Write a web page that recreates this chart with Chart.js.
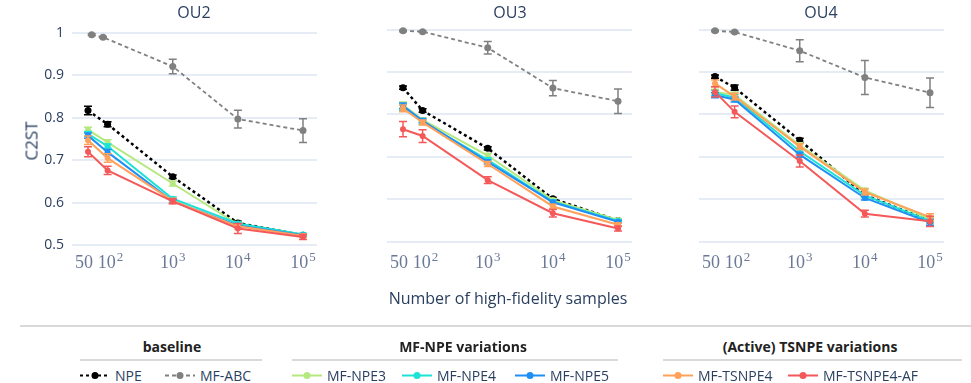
<!DOCTYPE html>
<html>
<head>
<meta charset="utf-8">
<script src="https://cdn.jsdelivr.net/npm/chart.js@4.4.1/dist/chart.umd.min.js"></script>
<style>
  body { margin: 0; background: #fff; font-family: "Open Sans", sans-serif; color: #2a3f5f; }
  #wrap { position: relative; width: 971px; height: 383px; overflow: hidden; }
  canvas.panel { position: absolute; top: 0; }
  .lbl { position: absolute; white-space: nowrap; transform: translate(-50%, -50%); }
  .rule { position: absolute; height: 2px; background: #d9d9d9; }
  .grp { position: absolute; font-weight: 700; font-size: 14px; color: #222; transform: translate(-50%, -50%); white-space: nowrap; }
  .item { position: absolute; display: flex; align-items: center; font-size: 14px; color: #2a3f5f; transform: translateY(-50%); white-space: nowrap; }
  .item svg { margin-right: 5px; }
</style>
</head>
<body>
<div id="wrap">
  <canvas id="c0" class="panel" width="325" height="290" style="left:0px"></canvas>
  <canvas id="c1" class="panel" width="325" height="290" style="left:315px"></canvas>
  <canvas id="c2" class="panel" width="325" height="290" style="left:627px"></canvas>
  <div class="lbl" style="left:194px;top:12px;font-size:16px">OU2</div>
  <div class="lbl" style="left:510px;top:12px;font-size:16px">OU3</div>
  <div class="lbl" style="left:821px;top:12px;font-size:16px">OU4</div>
  <div class="lbl" style="left:31px;top:141px;font-size:17px;transform:translate(-50%,-50%) rotate(-90deg)">C2ST</div>
  <div class="lbl" style="left:508px;top:298px;font-size:16px">Number of high-fidelity samples</div>
  <div class="rule" style="left:20px;width:951px;top:325px"></div>
  <div id="legend"></div>
</div>
<script>
// x positions (number of high-fidelity samples)
const samples = [50, 100, 1000, 10000, 100000];
const abcSamplesOU2 = [57, 85, 1000, 10000, 100000];
const xTicks = [50, 100, 1000, 10000, 100000];
const xTickBase = ['50', '10', '10', '10', '10'];
const xTickSup = ['', '2', '3', '4', '5'];
const yTicks = [0.5, 0.6, 0.7, 0.8, 0.9, 1];

const methods = ['NPE', 'MF-ABC', 'MF-NPE3', 'MF-NPE4', 'MF-NPE5', 'MF-TSNPE4', 'MF-TSNPE4-AF'];
const colors = ['#000000', '#808080', '#b6e880', '#1de2d6', '#1e8ff5', '#ffa15a', '#f4595a'];
const dashes = [[3, 3], [4, 3], [], [], [], [], []];

// mean C2ST, one row per method (same order as methods)
const ou2Mean = [
  [0.817, 0.785, 0.661, 0.552, 0.523],
  [0.996, 0.990, 0.921, 0.797, 0.770],
  [0.772, 0.742, 0.645, 0.549, 0.524],
  [0.762, 0.733, 0.609, 0.551, 0.525],
  [0.758, 0.719, 0.603, 0.546, 0.523],
  [0.747, 0.705, 0.604, 0.544, 0.522],
  [0.720, 0.676, 0.603, 0.539, 0.519]
];
const ou2Err = [
  [0.010, 0.006, 0.004, 0.004, 0.003],
  [0.002, 0.002, 0.017, 0.021, 0.028],
  [0.006, 0.006, 0.006, 0.004, 0.003],
  [0.006, 0.005, 0.004, 0.004, 0.003],
  [0.006, 0.006, 0.004, 0.004, 0.003],
  [0.010, 0.010, 0.006, 0.006, 0.004],
  [0.012, 0.010, 0.006, 0.012, 0.006]
];
const ou3Mean = [
  [0.863, 0.809, 0.720, 0.601, 0.550],
  [0.997, 0.995, 0.957, 0.862, 0.831],
  [0.822, 0.787, 0.703, 0.598, 0.551],
  [0.816, 0.782, 0.693, 0.594, 0.549],
  [0.820, 0.785, 0.688, 0.593, 0.547],
  [0.814, 0.781, 0.683, 0.583, 0.540],
  [0.765, 0.749, 0.645, 0.567, 0.531]
];
const ou3Err = [
  [0.004, 0.004, 0.004, 0.003, 0.003],
  [0.002, 0.002, 0.015, 0.018, 0.029],
  [0.007, 0.005, 0.005, 0.004, 0.003],
  [0.007, 0.005, 0.005, 0.004, 0.003],
  [0.007, 0.005, 0.005, 0.004, 0.003],
  [0.008, 0.006, 0.006, 0.005, 0.004],
  [0.018, 0.015, 0.008, 0.009, 0.006]
];
const ou4Mean = [
  [0.889, 0.863, 0.739, 0.610, 0.549],
  [0.997, 0.994, 0.950, 0.887, 0.851],
  [0.853, 0.846, 0.727, 0.621, 0.553],
  [0.850, 0.840, 0.713, 0.609, 0.549],
  [0.845, 0.835, 0.705, 0.603, 0.545],
  [0.873, 0.842, 0.724, 0.617, 0.558],
  [0.853, 0.806, 0.690, 0.566, 0.548]
];
const ou4Err = [
  [0.004, 0.006, 0.005, 0.004, 0.004],
  [0.002, 0.002, 0.026, 0.040, 0.035],
  [0.006, 0.006, 0.006, 0.005, 0.004],
  [0.006, 0.006, 0.006, 0.005, 0.004],
  [0.006, 0.006, 0.006, 0.005, 0.006],
  [0.008, 0.008, 0.007, 0.007, 0.008],
  [0.012, 0.014, 0.014, 0.008, 0.012]
];

// draws vertical error bars with caps through the y scale
const errorBars = {
  id: 'errorBars',
  afterDatasetDraw(chart, args) {
    const ds = chart.data.datasets[args.index];
    const yScale = chart.scales.y;
    const ctx = chart.ctx;
    ctx.save();
    ctx.strokeStyle = ds.borderColor;
    ctx.lineWidth = 1.5;
    ctx.setLineDash([]);
    args.meta.data.forEach((pt, j) => {
      const v = ds.data[j].y, e = ds.errors[j];
      const top = yScale.getPixelForValue(v + e);
      const bot = yScale.getPixelForValue(v - e);
      ctx.beginPath();
      ctx.moveTo(pt.x, top); ctx.lineTo(pt.x, bot);
      ctx.moveTo(pt.x - 4, top); ctx.lineTo(pt.x + 4, top);
      ctx.moveTo(pt.x - 4, bot); ctx.lineTo(pt.x + 4, bot);
      ctx.stroke();
    });
    ctx.restore();
  }
};

// x tick labels with raised exponents, placed by the log scale
const xLabelShift = [-4, 3, 0, 0, 0];
const expLabels = {
  id: 'expLabels',
  afterDraw(chart) {
    const sx = chart.scales.x, ctx = chart.ctx;
    const y = chart.chartArea.bottom + 18;
    ctx.save();
    ctx.fillStyle = '#6b7896';
    ctx.textBaseline = 'alphabetic';
    ctx.textAlign = 'left';
    xTicks.forEach((v, i) => {
      ctx.font = '18px "Liberation Serif"';
      const wb = ctx.measureText(xTickBase[i]).width;
      ctx.font = '13px "Liberation Serif"';
      const ws = xTickSup[i] ? ctx.measureText(xTickSup[i]).width + 1 : 0;
      const x0 = sx.getPixelForValue(v) + xLabelShift[i] - (wb + ws) / 2;
      ctx.font = '18px "Liberation Serif"';
      ctx.fillText(xTickBase[i], x0, y);
      if (xTickSup[i]) {
        ctx.font = '13px "Liberation Serif"';
        ctx.fillText(xTickSup[i], x0 + wb + 1, y - 7);
      }
    });
    ctx.restore();
  }
};

function makePanel(id, mean, err, abcX, yMin, yMax, showY) {
  const datasets = methods.map((name, i) => ({
    label: name,
    data: (i === 1 ? abcX : samples).map((x, j) => ({ x: x, y: mean[i][j] })),
    errors: err[i],
    order: methods.length - i, // later methods drawn on top
    borderColor: colors[i],
    backgroundColor: colors[i],
    borderWidth: i === 0 ? 2.5 : (i === 1 ? 1.8 : 2),
    borderDash: dashes[i],
    pointRadius: i < 2 ? 3.5 : 3,
    pointBorderWidth: 0,
    tension: 0
  }));
  return new Chart(document.getElementById(id), {
    type: 'line',
    data: { datasets: datasets },
    options: {
      responsive: false,
      animation: false,
      devicePixelRatio: 1,
      layout: { padding: { top: 22, right: 8, left: 0, bottom: 0 } },
      plugins: { legend: { display: false }, tooltip: { enabled: false } },
      scales: {
        x: {
          type: 'logarithmic', min: 28.4, max: 164000,
          grid: { display: false, drawTicks: false },
          border: { display: false },
          afterBuildTicks: s => { s.ticks = xTicks.map(v => ({ value: v })); },
          afterFit: s => { s.height = 40; },
          ticks: { display: false }
        },
        y: {
          min: yMin, max: yMax,
          afterBuildTicks: s => { s.ticks = yTicks.map(v => ({ value: v })); },
          afterFit: s => { s.width = 72; },
          grid: { color: '#e6ecf5', lineWidth: 2, drawTicks: false },
          border: { display: false },
          ticks: {
            display: showY, padding: 8,
            color: '#2a3f5f',
            font: { family: 'Open Sans', size: 14 },
            callback: v => v === 1 ? '1' : v.toFixed(1)
          }
        }
      }
    },
    plugins: [errorBars, expLabels]
  });
}

makePanel('c0', ou2Mean, ou2Err, abcSamplesOU2, 0.4882, 1.026, true);
makePanel('c1', ou3Mean, ou3Err, samples, 0.4804, 1.0177, false);
makePanel('c2', ou4Mean, ou4Err, samples, 0.4804, 1.0177, false);

// grouped legend
const groups = [
  { title: 'baseline', cx: 172, left: 80, right: 262 },
  { title: 'MF-NPE variations', cx: 463, left: 292, right: 618 },
  { title: '(Active) TSNPE variations', cx: 810, left: 663, right: 962 }
];
const legendLeft = [80, 165, 292, 402, 515, 663, 788];
const legend = document.getElementById('legend');
groups.forEach(g => {
  legend.insertAdjacentHTML('beforeend',
    `<div class="grp" style="left:${g.cx}px;top:346px">${g.title}</div>` +
    `<div class="rule" style="left:${g.left}px;width:${g.right - g.left}px;top:359px"></div>`);
});
methods.forEach((name, i) => {
  const dash = dashes[i].length ? `stroke-dasharray="${dashes[i].join(',')}"` : '';
  legend.insertAdjacentHTML('beforeend',
    `<div class="item" style="left:${legendLeft[i]}px;top:375px">` +
    `<svg width="30" height="10"><line x1="0" y1="5" x2="30" y2="5" stroke="${colors[i]}" stroke-width="2" ${dash}/>` +
    `<circle cx="15" cy="5" r="3.5" fill="${colors[i]}"/></svg>${name}</div>`);
});
</script>
</body>
</html>
